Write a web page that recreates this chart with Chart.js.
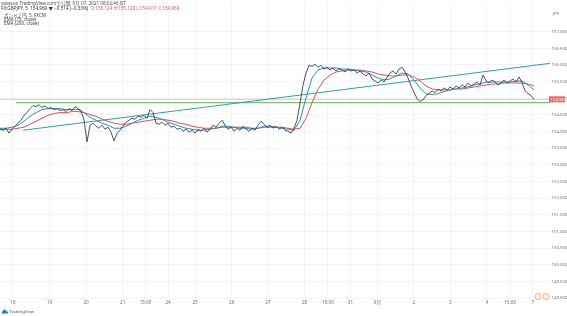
<!DOCTYPE html>
<html>
<head>
<meta charset="utf-8">
<script src="https://cdn.jsdelivr.net/npm/chart.js@4"></script>
<style>
html, body { margin: 0; padding: 0; background: #fff; }
#wrap { width: 567px; height: 316px; }
</style>
</head>
<body>
<div id="wrap"><canvas id="myChart" width="567" height="316"></canvas></div>
<script>
// GBPJPY 5min, closes sampled along the chart (one value per "bar" unit)
var closePrices = [
    154.07, 154.04, 154.10, 153.95, 154.07, 154.16, 154.25, 154.34, 154.49, 154.57,
    154.69, 154.78, 154.75, 154.81, 154.72, 154.78, 154.69, 154.72, 154.66, 154.69,
    154.63, 154.66, 154.60, 154.69, 154.63, 154.75, 154.69, 154.63, 154.34, 153.69,
    154.19, 154.25, 154.16, 154.10, 154.19, 154.07, 154.13, 153.98, 153.72, 153.95,
    154.04, 154.16, 154.28, 154.34, 154.40, 154.37, 154.46, 154.43, 154.49, 154.40,
    154.66, 154.57, 154.25, 154.22, 154.28, 154.19, 154.25, 154.13, 154.16, 154.07,
    154.10, 154.01, 154.07, 153.98, 154.04, 153.95, 154.07, 154.01, 154.10, 153.98,
    154.07, 154.19, 154.13, 154.25, 154.34, 154.19, 154.07, 154.13, 154.01, 154.10,
    154.04, 154.16, 154.07, 154.01, 154.10, 154.04, 154.19, 154.31, 154.22, 154.13,
    154.19, 154.10, 154.16, 154.07, 154.13, 154.04, 154.01, 153.95, 154.10, 154.34,
    154.87, 155.40, 155.76, 155.99, 155.96, 156.02, 155.93, 155.99, 155.88, 155.93,
    155.85, 155.91, 155.82, 155.88, 155.85, 155.79, 155.88, 155.82, 155.85, 155.76,
    155.82, 155.73, 155.67, 155.76, 155.58, 155.52, 155.46, 155.55, 155.49, 155.64,
    155.76, 155.82, 155.73, 155.88, 155.93, 155.79, 155.61, 155.37, 155.17, 154.99,
    154.90, 154.96, 155.08, 155.14, 155.22, 155.17, 155.28, 155.22, 155.31, 155.25,
    155.34, 155.28, 155.37, 155.31, 155.40, 155.34, 155.46, 155.37, 155.43, 155.49,
    155.40, 155.70, 155.52, 155.46, 155.55, 155.49, 155.40, 155.46, 155.55, 155.46,
    155.52, 155.58, 155.49, 155.64, 155.46, 155.22, 155.14, 155.08, 154.969
];

// EMA values, one every 2 bars
var ema75 = [
    154.10, 154.10, 154.13, 154.19, 154.31, 154.46, 154.57, 154.66, 154.69, 154.69,
    154.69, 154.66, 154.66, 154.66, 154.57, 154.43, 154.34, 154.25, 154.19, 154.10,
    154.10, 154.16, 154.25, 154.34, 154.40, 154.46, 154.43, 154.37, 154.28, 154.22,
    154.16, 154.10, 154.07, 154.04, 154.04, 154.07, 154.10, 154.16, 154.16, 154.13,
    154.10, 154.10, 154.07, 154.10, 154.16, 154.16, 154.13, 154.10, 154.07, 154.04,
    154.34, 155.02, 155.61, 155.85, 155.91, 155.91, 155.91, 155.88, 155.88, 155.85,
    155.82, 155.79, 155.70, 155.61, 155.55, 155.58, 155.67, 155.76, 155.73, 155.55,
    155.31, 155.14, 155.11, 155.14, 155.20, 155.25, 155.28, 155.31, 155.34, 155.40,
    155.43, 155.49, 155.49, 155.49, 155.49, 155.49, 155.52, 155.52, 155.40, 155.25
];
var ema200 = [
    154.07, 154.07, 154.07, 154.10, 154.13, 154.22, 154.31, 154.40, 154.49, 154.54,
    154.57, 154.57, 154.60, 154.60, 154.57, 154.51, 154.46, 154.37, 154.31, 154.25,
    154.22, 154.22, 154.25, 154.28, 154.31, 154.34, 154.37, 154.37, 154.34, 154.31,
    154.25, 154.22, 154.16, 154.13, 154.10, 154.10, 154.10, 154.13, 154.13, 154.13,
    154.13, 154.13, 154.10, 154.10, 154.13, 154.13, 154.13, 154.13, 154.10, 154.07,
    154.10, 154.40, 154.87, 155.28, 155.55, 155.70, 155.79, 155.82, 155.85, 155.85,
    155.85, 155.82, 155.79, 155.73, 155.70, 155.67, 155.67, 155.70, 155.70, 155.64,
    155.52, 155.37, 155.28, 155.25, 155.25, 155.25, 155.28, 155.28, 155.31, 155.34,
    155.37, 155.40, 155.43, 155.43, 155.46, 155.46, 155.46, 155.46, 155.43, 155.37
];

// drawn lines (bar, price)
var trendBars = [7.7, 183.3];
var trendPrices = [154.04, 156.05];
var supportBars = [5.3, 183.3];
var supportPrices = [154.87, 154.87];
var lastPrice = 154.969;

// time axis
var tickBars = [4.3, 16.5, 28.7, 40.9, 48.5, 56, 65, 77.2, 89.3, 101.5, 109.3, 116.8, 125.8, 137.9, 150.1, 162.3, 170, 177.6];
var tickLabels = ['18', '19', '20', '21', '15:00', '24', '25', '26', '27', '28', '15:00', '31', '6月', '2', '3', '4', '15:00', '7'];

// price axis
var yTicks = [149.0, 149.5, 150.0, 150.5, 151.0, 151.5, 152.0, 152.5, 153.0, 153.5, 154.0, 154.5, 155.0, 155.5, 156.0, 156.5, 157.0];

var headerLines = [
    'sasasuo TradingView.comで公開, 6月 07, 2021 08:02:46 JST',
    'FX:GBPJPY, 5  154.969 ▼ −0.514 (−0.33%)',
    'ポンド / 円, 5, FXCM',
    'EMA (75, close)',
    'EMA (200, close)'
];
var ohlcText = 'O:155.124 H:155.129 L:154.911 C:154.969';

var FONT = '"Noto Sans", "Noto Sans CJK JP", sans-serif';

var toPoints = (xs, ys) => {
    let pts = [];
    for (let i = 0; i < ys.length; i++) {
        pts.push({ x: xs[i], y: ys[i] });
    }
    return pts;
}

var barIndex = (n, step) => {
    let xs = [];
    for (let i = 0; i < n; i++) xs.push(i * step);
    return xs;
}

var overlayPlugin = {
    id: 'overlay',
    afterDraw: (chart) => {
        const ctx = chart.ctx;
        const y = chart.scales.y;
        ctx.save();

        // header
        ctx.textBaseline = 'middle';
        ctx.textAlign = 'left';
        ctx.font = '4.6px ' + FONT;
        ctx.fillStyle = '#4a4d57';
        ctx.fillText(headerLines[0], 1, 3.5);
        ctx.fillStyle = '#2f3240';
        ctx.fillText(headerLines[1], 1, 8.2);
        let w = ctx.measureText(headerLines[1] + '  ').width;
        ctx.fillStyle = '#e0565a';
        ctx.fillText(ohlcText, 1 + w, 8.2);
        ctx.fillStyle = '#3c3f4a';
        ctx.fillText(headerLines[2], 4, 15.2);
        ctx.fillText(headerLines[3], 4, 19.4);
        ctx.fillText(headerLines[4], 4, 23.4);

        // currency on price scale
        ctx.fillStyle = '#6a6d78';
        ctx.font = '4.3px ' + FONT;
        ctx.fillText('JPY', 553, 14);

        // last price label
        const py = y.getPixelForValue(lastPrice);
        ctx.fillStyle = '#e8676a';
        ctx.fillRect(549, py - 3, 16, 6);
        ctx.fillStyle = '#ffffff';
        ctx.font = '4.3px ' + FONT;
        ctx.fillText(lastPrice.toFixed(3), 550.5, py);

        // scale buttons
        const btns = [538, 546];
        for (let i = 0; i < btns.length; i++) {
            ctx.beginPath();
            ctx.arc(btns[i], 296.5, 3, 0, Math.PI * 2);
            ctx.fillStyle = '#fdf1e7';
            ctx.fill();
            ctx.strokeStyle = '#f2a46c';
            ctx.lineWidth = 0.8;
            ctx.stroke();
        }

        // logo
        ctx.fillStyle = '#2f7fd6';
        ctx.beginPath();
        ctx.arc(4.5, 311.5, 2, 0, Math.PI * 2);
        ctx.fill();
        ctx.fillRect(2, 311.5, 6, 2);
        ctx.fillStyle = '#50535e';
        ctx.font = '4.3px ' + FONT;
        ctx.fillText('TradingView', 9.5, 312);

        ctx.restore();
    }
}

var generateChartConfig = () => {
    return {
        type: 'line',
        data: {
            datasets: [{
                label: 'GBPJPY',
                data: toPoints(barIndex(closePrices.length, 1), closePrices),
                borderColor: '#3b3d45',
                borderWidth: 0.9,
                order: 0
            },
            {
                label: 'EMA (75, close)',
                data: toPoints(barIndex(ema75.length, 2), ema75),
                borderColor: '#2a8fc7',
                borderWidth: 1,
                order: 1
            },
            {
                label: 'EMA (200, close)',
                data: toPoints(barIndex(ema200.length, 2), ema200),
                borderColor: '#e3504f',
                borderWidth: 1,
                order: 2
            },
            {
                label: 'trend',
                data: toPoints(trendBars, trendPrices),
                borderColor: '#2aa3a8',
                borderWidth: 1,
                order: 3
            },
            {
                label: 'support',
                data: toPoints(supportBars, supportPrices),
                borderColor: '#7cc07e',
                borderWidth: 1.3,
                order: 4
            },
            {
                label: 'last',
                data: toPoints([0, 183.3], [lastPrice, lastPrice]),
                borderColor: '#f3b49e',
                borderWidth: 0.8,
                order: 5
            }]
        },
        options: {
            animation: false,
            responsive: false,
            devicePixelRatio: 1,
            layout: { padding: { left: 0, right: 0, top: 0, bottom: 8 } },
            plugins: {
                legend: { display: false },
                tooltip: { enabled: false }
            },
            elements: {
                point: { radius: 0 },
                line: { tension: 0 }
            },
            scales: {
                x: {
                    type: 'linear',
                    min: 0,
                    max: 183.3,
                    afterBuildTicks: (s) => { s.ticks = tickBars.map(v => ({ value: v })); },
                    afterFit: (s) => { s.height = 10; },
                    ticks: {
                        autoSkip: false,
                        maxRotation: 0,
                        padding: 1.5,
                        color: '#6a6d78',
                        font: { size: 4.6, family: FONT },
                        callback: (v, i) => tickLabels[i]
                    },
                    grid: { color: '#f1f3f8', drawTicks: false },
                    border: { display: false }
                },
                y: {
                    position: 'right',
                    min: 149.0,
                    max: 157.83,
                    afterBuildTicks: (s) => { s.ticks = yTicks.map(v => ({ value: v })); },
                    afterFit: (s) => { s.width = 17; },
                    ticks: {
                        autoSkip: false,
                        padding: 1.5,
                        color: '#6a6d78',
                        font: { size: 4.3, family: FONT },
                        callback: (v) => v.toFixed(3)
                    },
                    grid: { color: '#f1f3f8', drawTicks: false },
                    border: { display: false }
                }
            }
        },
        plugins: [overlayPlugin]
    };
}

window.onload = () => {
    const ctx = document.getElementById('myChart').getContext('2d');
    new Chart(ctx, generateChartConfig());
}
</script>
</body>
</html>
